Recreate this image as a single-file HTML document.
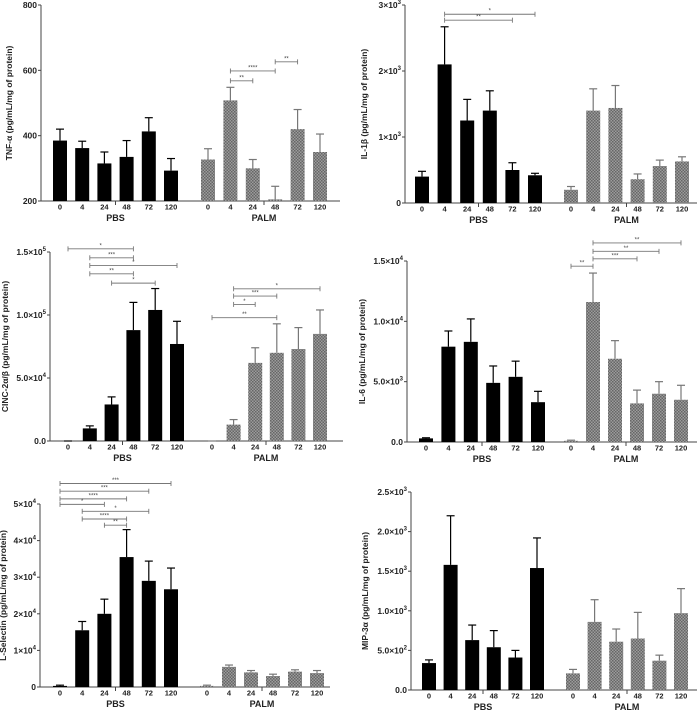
<!DOCTYPE html>
<html><head><meta charset="utf-8">
<style>
html,body{margin:0;padding:0;background:#fff;}
svg{display:block;font-family:"Liberation Sans",Arial,sans-serif;font-weight:bold;}
</style></head>
<body>
<svg id="fig" width="700" height="711" viewBox="0 0 700 711" xmlns="http://www.w3.org/2000/svg">
<defs>
<pattern id="chk" width="3" height="3" patternUnits="userSpaceOnUse">
<rect width="3" height="3" fill="#9c9c9c"/>
<rect width="1.5" height="1.5" fill="#666"/>
<rect x="1.5" y="1.5" width="1.5" height="1.5" fill="#666"/>
</pattern>
</defs>
</svg>
<script>
const NS='http://www.w3.org/2000/svg';
const svg=document.getElementById('fig');
const timeLabels=['0','4','24','48','72','120'];
const groupNames=['PBS','PALM'];

// TNF-alpha
const tnfPbs=[385,362,315,335,413,293];
const tnfPbsErr=[420,383,350,385,455,330];
const tnfPalm=[327,508,300,205,420,350];
const tnfPalmErr=[360,548,327,245,480,405];
const tnfTicks=[200,400,600,800];
const tnfTickLabels=['200','400','600','800'];
const tnfSig=[[7,8,568,'**'],[7,9,598,'****'],[9,10,626,'**']];

// IL-1beta (x1e3)
const il1Pbs=[0.40,2.10,1.25,1.40,0.50,0.42];
const il1PbsErr=[0.48,2.67,1.57,1.70,0.61,0.45];
const il1Palm=[0.20,1.40,1.44,0.36,0.56,0.63];
const il1PalmErr=[0.25,1.73,1.78,0.44,0.65,0.70];
const il1Ticks=[0,1,2,3];
const il1TickLabels=[['0',''],['1×10','3'],['2×10','3'],['3×10','3']];
const il1Sig=[[1,5,2.86,'*'],[1,4,2.77,'**']];

// CINC-2 (x1e4)
const cincPbs=[0,1.0,2.9,8.8,10.4,7.7];
const cincPbsErr=[0,1.2,3.5,11.0,12.1,9.5];
const cincPalm=[0,1.3,6.2,7.0,7.3,8.5];
const cincPalmErr=[0,1.7,7.4,9.3,9.0,10.4];
const cincTicks=[0,5,10,15];
const cincTickLabels=[['0.0',''],['5.0×10','4'],['1.0×10','5'],['1.5×10','5']];
const cincSig=[[0,3,15.25,'*'],[1,3,14.54,'***'],[1,5,13.93,'*'],[1,3,13.27,'**'],[2,4,12.53,'*'],
 [7,11,12.08,'*'],[7,9,11.5,'***'],[7,8,10.84,'*'],[6,9,9.79,'**']];

// IL-6 (x1e3)
const il6Pbs=[0.3,7.9,8.3,4.9,5.4,3.3];
const il6PbsErr=[0.35,9.2,10.2,6.3,6.7,4.2];
const il6Palm=[0.1,11.6,6.9,3.2,4.0,3.5];
const il6PalmErr=[0.15,14.0,8.4,4.3,5.0,4.7];
const il6Ticks=[0,5,10,15];
const il6TickLabels=[['0.0',''],['5.0×10','3'],['1.0×10','4'],['1.5×10','4']];
const il6Sig=[[6,7,14.57,'**'],[7,9,15.18,'***'],[7,10,15.8,'**'],[7,11,16.5,'**']];

// L-Selectin (x1e4)
const lselPbs=[0.03,1.55,2.0,3.55,2.9,2.67];
const lselPbsErr=[0.05,1.79,2.4,4.3,3.44,3.25];
const lselPalm=[0.03,0.55,0.40,0.30,0.42,0.38];
const lselPalmErr=[0.05,0.60,0.45,0.35,0.47,0.45];
const lselTicks=[0,1,2,3,4,5];
const lselTickLabels=[['0',''],['1×10','4'],['2×10','4'],['3×10','4'],['4×10','4'],['5×10','4']];
const lselSig=[[0,5,5.56,'***'],[0,4,5.35,'***'],[0,3,5.14,'****'],[0,2,4.99,'*'],[1,4,4.8,'*'],[1,3,4.59,'****'],[2,3,4.42,'**']];

// MIP-3alpha (x1e2)
const mipPbs=[3.4,15.8,6.3,5.4,4.1,15.4];
const mipPbsErr=[3.8,22,8.2,7.5,5.0,19.2];
const mipPalm=[2.1,8.6,6.1,6.5,3.7,9.7];
const mipPalmErr=[2.6,11.4,7.7,9.8,4.4,12.8];
const mipTicks=[0,5,10,15,20,25];
const mipTickLabels=[['0.0',''],['5.0×10','2'],['1.0×10','3'],['1.5×10','3'],['2.0×10','3'],['2.5×10','3']];
const mipSig=[];

function el(tag,attrs,parent){const e=document.createElementNS(NS,tag);for(const k in attrs)e.setAttribute(k,attrs[k]);(parent||svg).appendChild(e);return e;}

function panel(cfg){
  const g=el('g',{});
  
  
  const y=v=>cfg.bot-(v-cfg.min)/(cfg.max-cfg.min)*(cfg.bot-cfg.top);
  const xs=[];
  for(let i=0;i<6;i++)xs.push(cfg.pbs0+i*cfg.pbsStep);
  for(let i=0;i<6;i++)xs.push(cfg.palm0+i*cfg.palmStep);
  const ya=el('line',{x1:cfg.ax,y1:cfg.top,x2:cfg.ax,y2:cfg.bot,stroke:'#444','stroke-width':1},g);
  
  
  const xa=el('line',{x1:cfg.ax,y1:cfg.bot,x2:cfg.xEnd,y2:cfg.bot,stroke:'#444','stroke-width':1},g);
  
  
  const bx=(xs[2]+xs[3])/2;
  el('line',{x1:bx,y1:cfg.bot,x2:bx,y2:cfg.bot+4,stroke:'#444','stroke-width':1},g);
  const bx2=(xs[8]+xs[9])/2;
  el('line',{x1:bx2,y1:cfg.bot,x2:bx2,y2:cfg.bot+4,stroke:'#444','stroke-width':1},g);
  cfg.ticks.forEach((t,i)=>{
    const ty=y(t);
    el('line',{x1:cfg.ax-3,y1:ty,x2:cfg.ax,y2:ty,stroke:'#444','stroke-width':1},g);
    const tx=el('text',{x:cfg.ax-4,y:ty+3,'font-size':8.5,'text-anchor':'end',fill:'#222'},g);
    
    
    const lab=cfg.tickLabels[i];
    if(Array.isArray(lab)){
      tx.textContent=lab[0];
      if(lab[1]){const s=el('tspan',{dy:-4,'font-size':6},tx);s.textContent=lab[1];}
    } else tx.textContent=lab;
  });
  const cy=(cfg.top+cfg.bot)/2;
  const tt=el('text',{x:cfg.titleX,y:cy,'font-size':8.5,'text-anchor':'middle',fill:'#222',transform:`rotate(-90 ${cfg.titleX} ${cy})`},g);
  tt.textContent=cfg.title;
  
  
  const vals=cfg.pbs.concat(cfg.palm), errs=cfg.pbsErr.concat(cfg.palmErr);
  const bw=14;
  vals.forEach((v,i)=>{
    const x=xs[i], by=y(v), ey=y(errs[i]);
    const palm=i>=6;
    const col=palm?'#777':'#000';
    el('line',{x1:x,y1:ey,x2:x,y2:by,stroke:col,'stroke-width':1.2},g);
    el('line',{x1:x-4,y1:ey,x2:x+4,y2:ey,stroke:col,'stroke-width':1.2},g);
    const r=el('rect',{x:x-bw/2,y:by,width:bw,height:Math.max(0,cfg.bot-by),fill:palm?'url(#chk)':'#000'},g);
    
    
    const tl=el('text',{x:x,y:cfg.bot+8.5,'font-size':7.5,'text-anchor':'middle',fill:'#222'},g);
    tl.textContent=timeLabels[i%6];
    
    
  });
  [0,1].forEach(k=>{
    const cx=(xs[k*6]+xs[k*6+5])/2;
    const gl=el('text',{x:cx,y:cfg.bot+20,'font-size':9,'text-anchor':'middle',fill:'#222'},g);
    gl.textContent=groupNames[k];
    
    
  });
  cfg.sig.forEach(s=>{
    const x1=xs[s[0]],x2=xs[s[1]],sy=y(s[2]);
    const sg=el('g',{stroke:'#777','stroke-width':0.9},g);
    
    
    el('line',{x1:x1,y1:sy,x2:x2,y2:sy},sg);
    el('line',{x1:x1,y1:sy-2.5,x2:x1,y2:sy+2.5},sg);
    el('line',{x1:x2,y1:sy-2.5,x2:x2,y2:sy+2.5},sg);
    const st=el('text',{x:(x1+x2)/2,y:sy-1.5,'font-size':6,'text-anchor':'middle',fill:'#444','font-weight':'normal'},g);
    st.textContent=s[3];
    
    
  });
}

panel({name:'tnf-alpha',ax:41,top:5,bot:201,xEnd:340,min:200,max:800,ticks:tnfTicks,tickLabels:tnfTickLabels,
  pbs0:60,pbsStep:22.2,palm0:208,palmStep:22.4,title:'TNF-α (pg/mL/mg of protein)',titleX:12,
  pbs:tnfPbs,pbsErr:tnfPbsErr,palm:tnfPalm,palmErr:tnfPalmErr,sig:tnfSig});
panel({name:'il-1beta',ax:405,top:5,bot:203,xEnd:697,min:0,max:3,ticks:il1Ticks,tickLabels:il1TickLabels,
  pbs0:422,pbsStep:22.6,palm0:571,palmStep:22.2,title:'IL-1β (pg/mL/mg of protein)',titleX:367,
  pbs:il1Pbs,pbsErr:il1PbsErr,palm:il1Palm,palmErr:il1PalmErr,sig:il1Sig});
panel({name:'cinc-2',ax:50,top:252,bot:441,xEnd:343,min:0,max:15,ticks:cincTicks,tickLabels:cincTickLabels,
  pbs0:68,pbsStep:21.8,palm0:212,palmStep:21.6,title:'CINC-2α/β (pg/mL/mg of protein)',titleX:8,
  pbs:cincPbs,pbsErr:cincPbsErr,palm:cincPalm,palmErr:cincPalmErr,sig:cincSig});
panel({name:'il-6',ax:407,top:261,bot:442,xEnd:697,min:0,max:15,ticks:il6Ticks,tickLabels:il6TickLabels,
  pbs0:426,pbsStep:22.4,palm0:571,palmStep:22,title:'IL-6 (pg/mL/mg of protein)',titleX:365,
  pbs:il6Pbs,pbsErr:il6PbsErr,palm:il6Palm,palmErr:il6PalmErr,sig:il6Sig});
panel({name:'l-selectin',ax:40,top:504,bot:687,xEnd:330,min:0,max:5,ticks:lselTicks,tickLabels:lselTickLabels,
  pbs0:60,pbsStep:22.2,palm0:207,palmStep:22,title:'L-Selectin (pg/mL/mg of protein)',titleX:6,
  pbs:lselPbs,pbsErr:lselPbsErr,palm:lselPalm,palmErr:lselPalmErr,sig:lselSig});
panel({name:'mip-3alpha',ax:411,top:492,bot:690,xEnd:697,min:0,max:25,ticks:mipTicks,tickLabels:mipTickLabels,
  pbs0:429,pbsStep:21.6,palm0:573,palmStep:21.6,title:'MIP-3α (pg/mL/mg of protein)',titleX:368,
  pbs:mipPbs,pbsErr:mipPbsErr,palm:mipPalm,palmErr:mipPalmErr,sig:mipSig});
</script>
</body></html>
